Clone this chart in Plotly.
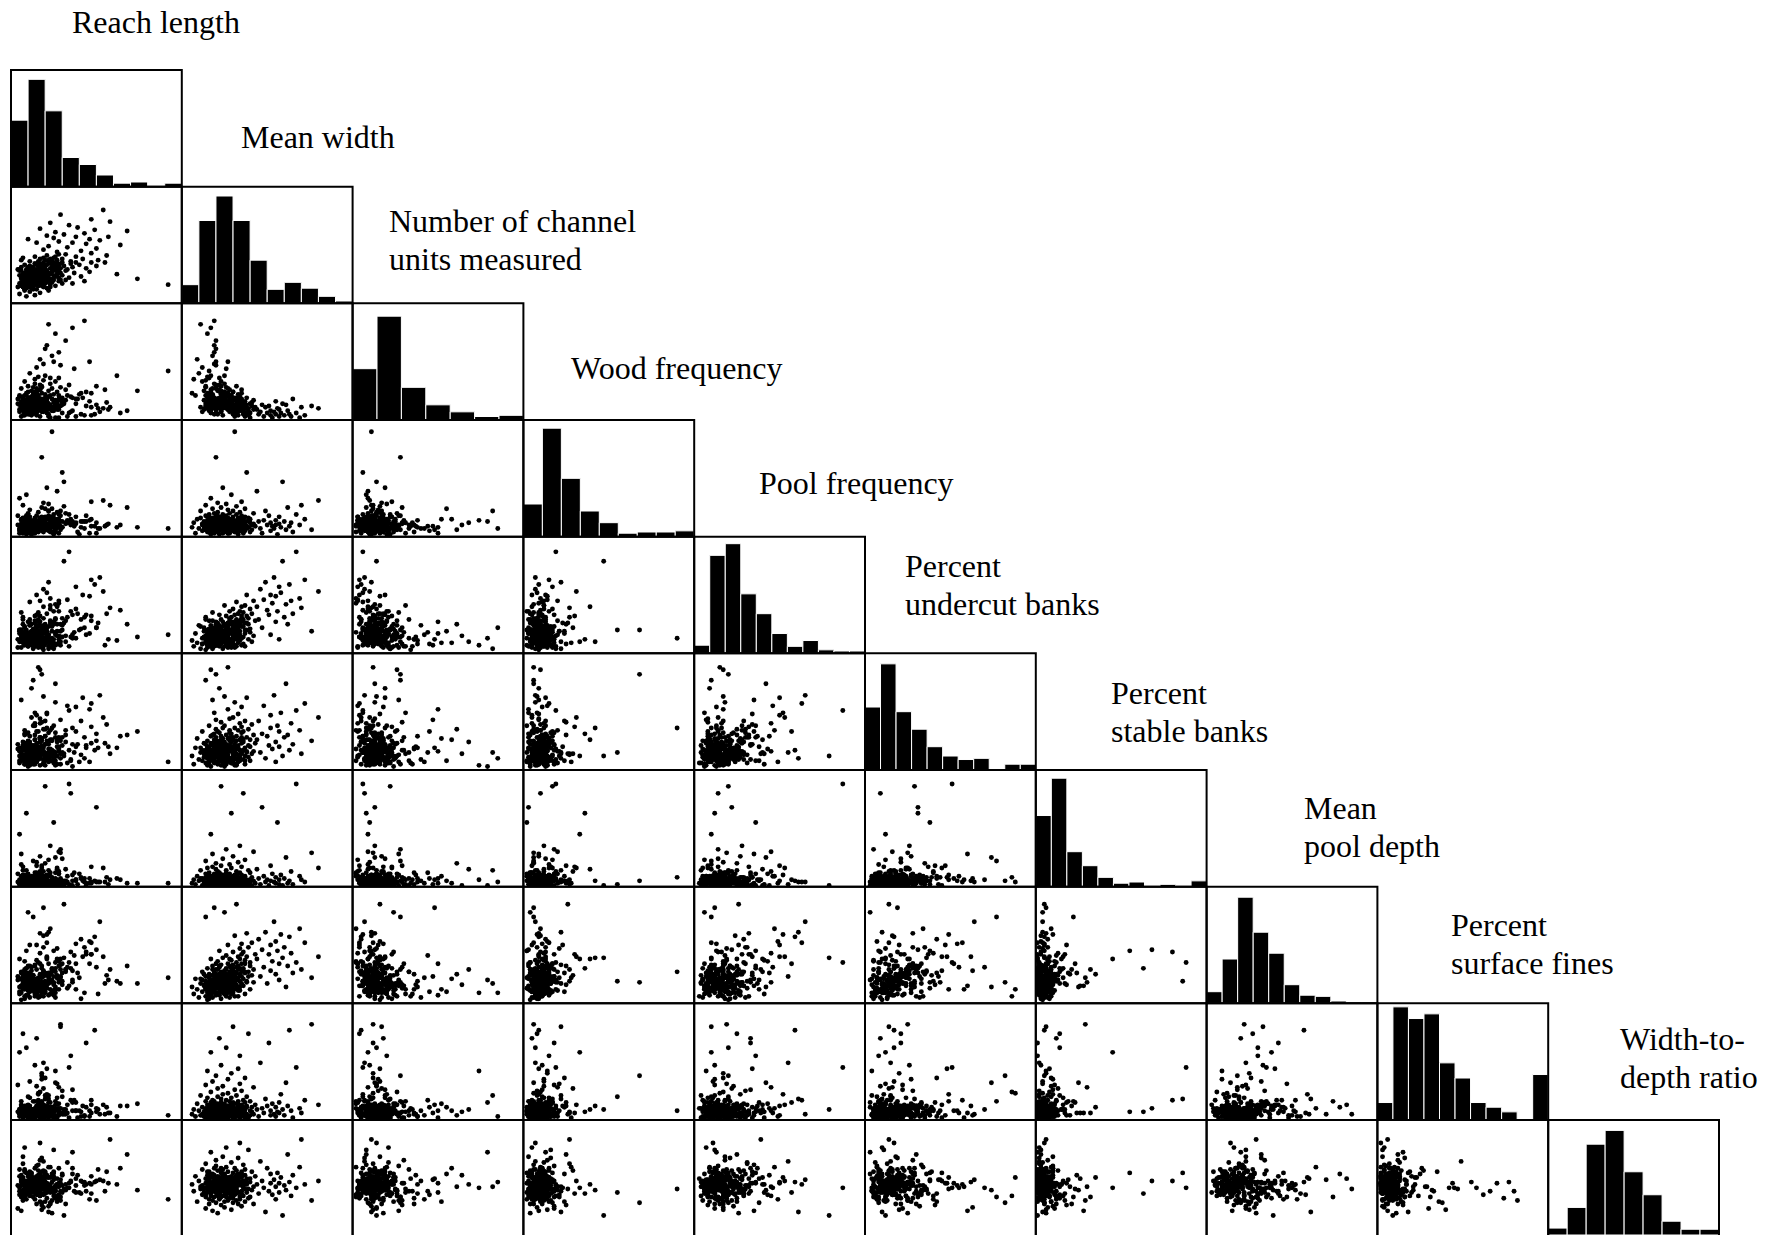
import plotly.graph_objects as go

# ---------------- labels ----------------
var_labels = [
    ["Reach length"],
    ["Mean width"],
    ["Number of channel", "units measured"],
    ["Wood frequency"],
    ["Pool frequency"],
    ["Percent", "undercut banks"],
    ["Percent", "stable banks"],
    ["Mean", "pool depth"],
    ["Percent", "surface fines"],
    ["Width-to-", "depth ratio"],
]


def parse(s):
    return [int(v) for v in s.split()]


# ---------------- per-site values (index units, 0-100 scale) ----------------
reach_length = parse("""
9 14 5 17 11 22 8 15 12 4 19 10 13 7 26 16 6 18 11 92 9 14 10 23 8 20 5 15 36 12 17 7 13 24 11 6 16 28 10 19 43 8 21 14 15 25 32 18 29 17 20
16 10 24 14 74 19 8 28 15 12 22 17 34 9 20 13 26 11 18 41 14 7 25 16 30 21 5 15 19 23 62 10 17 27 13 9 22 14 37 8 20 29 16 11 24 18 46 15 6 26 21 17 32 28
18 25 9 33 15 27 20 12 23 44 17 29 13 36 24 19 6 26 16 50 28 20 11 31 15 25 21 40 18 8 27 23 17 35 14 29 55 19 22 38 30 47
24 16 35 11 27 20 51 22 17 30 42 7 25 19 38 26 14 56 21 28 32 47
27 41 19 50 33 22 64 44 15 36 28 52 10 46 25 38 57 21 31 43 26 68 49 17 39 34 23 58 47 29 54
12 7 18 9 15 22 10 6 14 19 11 25 8 16 13 5 20 12 9 17
14 10 21 7 13 16 9 28 11 18 6 15 12 23 8 17 10 14 19 11
9 16 13 5 20 12 8 15 26 10 17 7 14 11 22 13 9 18 6 12
15 11 8 19 13 24 10 16 7 14 12 21 9 17 11 30 8 13 18 10
13 6 17 11 9 20 14 12 27 8 15 10 16 4 19 12 11 23 9 14
""")

mean_width = parse("""
6 7 8 9 10 11 12 12 13 14 14 14 14 14 15 15 15 15 15 16 16 16 16 16 16 17 17 17 17 17 17 18 18 18 18 18 18 19 19 19 19 19 19 19 20 20 20 20 20 20 20
21 21 21 21 21 21 21 22 22 22 22 22 22 22 23 23 23 23 23 23 23 24 24 24 24 24 24 24 25 25 25 25 25 25 25 26 26 26 26 26 26 26 27 27 27 27 27 27 28 28 28 28 28 28
29 29 29 29 29 29 30 30 30 30 30 30 31 31 31 31 31 31 32 32 32 32 32 32 33 33 33 33 33 33 34 34 34 34 34 34 35 35 35 35 35 35
36 36 36 36 37 37 37 37 38 38 38 39 39 39 40 40 40 41 41 42 42 43
44 45 46 47 48 49 50 51 52 52 53 54 55 55 56 57 57 58 59 60 61 62 63 64 65 67 69 70 72 76 80
22 17 28 14 25 19 31 23 16 27 20 35 18 24 12 29 21 26 15 33
19 25 13 22 30 18 27 21 16 24 37 20 26 14 23 29 17 22 32 19
26 15 21 28 18 24 11 23 30 20 17 25 34 22 19 27 16 21 24 28
20 29 24 16 22 36 19 26 14 23 27 18 21 31 25 17 23 20 28 15
24 21 18 27 13 23 26 20 32 17 25 22 19 29 16 24 21 38 18 23
""")

channel_units = parse("""
23 35 21 52 40 82 33 45 25 14 34 29 28 12 74 37 16 23 19 42 10 20 17 36 13 38 9 24 79 20 26 18 22 55 16 27 21 58 14 48 85 15 64 31 27 50 68 28 47 30 61
15 10 18 17 25 17 5 36 18 19 25 26 30 11 22 7 33 8 29 23 10 16 22 20 19 19 13 14 14 31 38 24 16 24 12 14 20 13 44 21 16 28 12 15 27 15 50 23 9 17 18 13 26 21
12 15 8 21 15 12 10 5 9 24 17 17 9 19 11 11 3 13 13 29 18 19 6 16 10 10 16 22 7 4 14 13 14 20 8 17 26 12 11 18 15 23
11 8 7 5 16 12 10 3 13 6 19 4 8 10 14 2 6 15 12 9 17 11
9 5 7 13 3 11 6 12 4 8 2 7 5 16 10 3 9 6 14 4 13 8 5 3 18 6 2 11 4 12 10
12 8 16 10 19 14 6 11 22 13 9 17 12 15 7 20 11 14 10 18
15 11 9 13 24 10 16 12 8 18 14 6 13 21 11 17 9 15 12 19
10 14 18 7 12 16 11 25 13 9 15 20 10 14 5 12 17 11 13 8
13 17 10 15 12 8 19 14 11 23 9 16 12 10 18 13 7 15 11 14
11 15 13 9 17 12 20 10 14 6 16 13 11 18 12 4 15 10 21 13
""")

wood_frequency = parse("""
8 12 3 15 7 22 10 5 13 18 9 11 6 27 14 9 4 17 12 7
11 6 19 4 9 14 33 8 13 2 10 16 7 24 12 9 5 15 20 6
7 13 10 3 18 8 12 68 9 14 6 21 11 4 16 8 29 13 10 5
9 15 6 12 2 17 10 7 14 25 8 11 3 19 9 13 42 6 12 8
12 8 4 16 10 13 7 28 11 9 5 14 18 6 23 10 12 3 9 15
6 11 9 20 3 14 8 36 12 7 15 10 5 17 13 9 22 4 11 90
10 14 7 4 12 19 8 11 26 6 13 9 2 16 10 21 12 7 15 5
13 9 5 18 11 8 30 14 6 10 3 12 24 7 17 9 55 13 8 16
8 12 4 15 10 6 20 11 9 39 13 7 3 14 22 10 18 5 12 9
7 10 14 2 17 11 8 47 13 6 25 9 12 4 19 10 27 15 6 31
9 6 12 8 14 5 10 7 11 16 8 13 4 9 11 7 15 10 6 12
7 11 9 14 6 10 13 8 17 9 5 12 10 7 15 11 8 13 9 6
12 8 10 5 13 9 16 7 11 8 14 10 6 12 9 3 11 13 8 10
10 13 7 11 9 15 8 12 6 10 14 9 18 7 11 8 13 10 5 9
8 11 14 9 6 12 10 7 13 9 11 16 8 10 4 12 9 7 14 11
""")

pool_frequency = parse("""
11 6 17 9 24 4 13 8 19 12 3 15 10 31 7 14 20 5 11 16 9 28 6 12 18 8 10 21 13 7 17 14 4 19 11 35 5 9 16 12 22 8 15 6 14 27 10 20 7 18 25
19 10 26 7 14 22 17 12 33 9 16 24 6 13 20 11 29 15 8 21 12 18 4 27 14 10 19 23 17 41 11 6 16 25 13 20 9 32 18 7 21 14 15 26 5 12 17 23 10 30 19 8 28 36
17 25 12 31 19 8 22 14 38 16 27 10 20 33 13 24 5 18 29 22 15 12 44 26 17 9 34 20 21 14 19 28 11 36 16 25 7 40 23 13 30 32
23 35 14 29 41 17 26 6 32 20 50 25 12 30 38 18 21 34 10 45 15 28
40 29 55 22 46 61 37 33 50 16 43 65 27 49 36 57 12 52 79 31 42 25 59 45 34 87 47 39 63 19 53
14 9 19 12 24 16 7 13 21 11 17 27 10 15 8 20 13 18 11 23
16 12 22 10 15 28 13 8 18 14 20 11 25 9 17 12 15 21 6 14
11 17 13 20 9 15 23 12 16 7 19 14 26 10 13 18 11 22 15 8
18 10 15 13 21 8 16 12 29 14 11 19 9 17 13 24 10 15 20 12
13 16 11 24 14 9 18 12 15 22 10 17 13 5 19 14 11 26 16 12
""")

percent_undercut_banks = parse("""
12 5 19 27 9 15 8 33 11 22 6 17 77 13 4 20 10 25 16 7 14 38 9 18 5 29 12 23 3 15 86 11 21 8 17 60 13 26 6 19 10 31 14 49 7 16 24 82 43 28 35
16 7 25 11 33 14 5 19 9 70 22 12 17 8 29 10 15 4 41 13 26 18 6 11 21 36 16 9 63 14 19 3 24 12 38 17 7 30 15 10 22 5 88 20 13 27 52 18 8 32 25 44 34 28
20 10 31 6 16 24 12 45 8 19 27 14 5 22 36 16 11 58 9 25 18 4 29 14 21 13 48 7 19 34 12 26 17 8 40 10 23 15 32 54 28 37
17 33 9 24 5 42 19 12 28 15 62 21 11 35 20 8 26 39 14 16 30 23
26 42 15 31 55 10 29 21 47 36 18 64 24 7 38 33 20 49 12 28 74 30 17 40 22 51 34 14 57 25 45
15 10 21 13 7 18 25 12 16 9 20 14 30 11 17 6 22 13 19 10
12 18 14 24 9 16 11 20 13 27 8 15 19 12 23 10 17 14 5 21
17 11 15 8 22 13 19 10 28 14 12 18 9 16 24 11 20 13 15 7
14 20 10 16 12 26 9 18 13 15 21 11 17 4 19 14 23 12 16 10
19 13 16 11 23 8 15 12 20 17 10 32 14 18 9 13 21 16 11 15
""")

percent_stable_banks = parse("""
3 6 2 9 5 14 1 7 4 11 3 8 22 2 6 10 4 16 5 3
5 2 7 12 3 4 45 6 1 9 8 17 2 5 4 28 7 3 11 6
4 8 1 6 10 3 15 5 2 7 20 4 9 6 1 3 13 8 2 12
6 3 11 2 5 86 4 7 1 18 8 3 10 6 2 24 5 4 9 7
2 7 4 9 1 5 14 3 6 12 2 8 32 4 5 1 10 7 3 19
5 1 8 3 11 6 2 63 4 7 16 9 1 5 3 26 6 2 10 8
3 9 6 2 4 13 7 1 5 21 3 8 11 2 6 4 35 5 1 12
7 4 1 10 5 2 17 6 3 80 8 1 9 4 23 6 2 5 14 3
2 6 12 4 8 1 30 5 3 15 7 2 68 9 4 6 1 18 5 11
4 8 3 55 6 2 10 1 7 25 3 5 13 2 88 9 6 4 29 16
3 5 2 7 4 1 6 3 8 2 5 4 9 3 6 2 5 1 7 4
4 2 6 3 5 8 1 4 7 3 2 5 6 4 10 3 2 7 5 1
5 3 1 6 4 2 7 5 3 9 4 6 2 5 3 8 1 4 6 3
2 6 4 3 7 5 1 8 4 2 6 3 5 9 2 4 7 3 1 5
6 4 3 5 2 7 4 1 6 3 8 5 2 4 7 3 6 2 5 10
""")

mean_pool_depth = parse("""
14 8 21 12 5 17 27 10 15 23 6 13 74 19 9 16 3 30 11 22 7 18 12 25 4 14 38 8 20 13 6 17 24 10 32 15 5 21 11 82 9 26 16 12 19 7 29 18 23 34 25
22 13 29 9 17 24 36 12 20 31 7 25 15 45 19 11 27 21 16 4 33 23 18 10 26 39 14 21 28 8 19 78 17 24 13 30 22 6 41 16 25 29 12 50 20 9 34 15 26 5 38 18 27 32
25 17 30 13 37 22 9 28 20 44 15 33 24 18 27 58 21 12 35 31 20 16 26 85 29 11 40 22 32 6 47 25 14 30 19 38 17 27 23 51 34 42
30 21 44 15 37 26 8 34 60 19 40 27 23 48 12 35 32 24 52 18 29 42
38 55 23 46 31 61 17 42 50 28 36 70 25 53 45 34 20 59 39 48 14 32 57 43 26 35 64 29 52 22 40
17 12 22 15 9 19 26 14 18 11 21 16 29 13 20 8 17 24 15 12
14 20 16 25 11 18 13 22 10 17 27 15 19 12 23 16 7 21 14 18
19 13 17 10 24 15 21 12 30 16 14 20 11 18 26 13 22 15 9 17
16 22 12 18 14 28 11 20 15 17 23 13 19 6 21 16 25 14 18 12
21 15 18 13 25 10 17 14 22 19 12 32 16 20 11 15 23 18 13 17
""")

percent_surface_fines = parse("""
5 9 3 14 8 21 4 11 6 30 10 2 16 7 42 5 13 9 19 4
8 4 12 6 10 3 58 7 15 5 24 9 2 11 33 6 17 8 3 13
3 10 7 16 5 2 9 38 6 12 4 8 20 11 3 14 27 7 5 70
9 6 13 2 11 18 4 8 5 15 7 47 3 10 22 6 12 9 29 4
7 3 11 5 14 9 62 2 8 17 4 10 6 23 12 3 35 8 5 16
4 12 8 6 10 40 3 7 13 5 19 9 2 15 11 6 80 4 26 8
6 9 2 14 7 4 21 10 5 12 3 44 8 16 6 31 11 2 55 9
10 5 13 3 8 25 6 11 4 17 7 2 36 9 15 5 20 12 74 3
2 8 16 4 11 7 28 5 13 9 3 49 10 6 18 12 66 4 8 14
5 11 3 7 15 6 22 9 4 32 12 77 8 2 45 10 6 17 82 13
6 4 9 3 7 11 5 8 2 10 6 4 12 7 5 9 3 8 6 13
5 8 3 10 6 4 12 7 9 2 6 11 5 8 4 14 7 3 9 6
7 3 9 5 11 6 4 8 13 5 7 2 10 6 8 4 9 5 12 7
4 10 6 8 3 7 12 5 9 6 2 11 7 4 8 5 10 3 6 9
8 5 11 4 7 9 3 6 10 5 8 13 4 7 2 9 6 11 5 7
""")

width_to_depth_ratio = parse("""
44 38 51 29 47 42 57 35 40 23 49 45 33 62 41 52 37 46 55 31
39 48 43 27 55 36 41 50 72 45 34 30 46 53 38 21 44 58 42 49
46 33 52 40 60 37 44 28 48 65 42 35 51 19 43 39 56 47 32 45
41 50 36 45 31 54 43 38 49 26 47 40 68 34 44 52 39 57 42 24
37 44 53 40 29 47 35 59 42 38 76 46 33 50 41 30 55 45 36 48
43 32 48 39 45 22 51 36 63 41 34 46 54 28 44 49 38 42 58 40
35 47 42 56 30 44 39 52 40 27 48 45 37 67 43 33 50 80 46 31
45 38 50 25 43 53 36 41 61 47 34 44 29 57 40 49 37 46 32 74
40 49 33 46 55 39 42 27 51 44 36 64 47 41 20 58 38 45 53 35
48 42 31 54 37 45 50 17 43 39 70 46 34 52 41 59 83 44 30 47
44 39 48 36 51 42 46 33 45 49 41 55 38 47 43 35 50 44 40 53
42 47 37 45 50 40 44 34 48 43 52 39 46 41 56 38 45 49 36 43
46 41 49 38 44 53 40 47 32 45 42 50 37 48 43 39 54 44 46 41
40 45 43 51 37 46 42 48 35 44 49 41 47 38 52 43 45 39 50 42
48 43 39 46 41 55 44 37 49 42 45 36 47 43 51 40 46 44 38 58
""")

# ---------------- histogram bar heights (relative frequency, %) ----------------
hist_reach_length = [57, 92, 65, 25, 19, 10, 3, 4, 0, 3]
hist_mean_width = [16, 71, 92, 71, 37, 12, 18, 13, 6, 2]
hist_channel_units = [44, 89, 28, 13, 7, 3, 4]
hist_wood_frequency = [28, 93, 50, 22, 12, 3, 4, 4, 5]
hist_pool_frequency = [7, 84, 94, 51, 34, 17, 6, 11, 3, 2, 2]
hist_undercut_banks = [54, 91, 50, 35, 20, 12, 9, 10, 0, 5, 5]
hist_stable_banks = [61, 93, 30, 18, 8, 3, 4, 0, 2, 0, 5]
hist_pool_depth = [10, 38, 91, 61, 43, 16, 7, 6, 2, 1, 1]
hist_surface_fines = [15, 97, 87, 91, 49, 36, 15, 11, 7, 0, 39]
hist_width_to_depth = [6, 24, 79, 91, 55, 35, 12, 5, 5]

variables = [reach_length, mean_width, channel_units, wood_frequency, pool_frequency,
             percent_undercut_banks, percent_stable_banks, mean_pool_depth,
             percent_surface_fines, width_to_depth_ratio]
histograms = [hist_reach_length, hist_mean_width, hist_channel_units, hist_wood_frequency,
              hist_pool_frequency, hist_undercut_banks, hist_stable_banks, hist_pool_depth,
              hist_surface_fines, hist_width_to_depth]

lengths = [len(v) for v in variables]
assert len(set(lengths)) == 1, lengths

# ---------------- layout geometry ----------------
W, H = 1775, 1235
GRID_LEFT, GRID_TOP = 11.0, 70.0
CELL_W, CELL_H = 170.8, 116.67
NV = len(variables)
FONT = "Liberation Serif, Times New Roman, serif"
FONT_SIZE = 32
LINE_GAP = 38
label_anchor = [(70, 22), (239, 137), (387, 221), (569, 368), (757, 483),
                (903, 566), (1109, 693), (1302, 808), (1449, 925), (1618, 1039)]

fig = go.Figure()
layout = dict(
    width=W, height=H, margin=dict(l=0, r=0, t=0, b=0),
    paper_bgcolor="white", plot_bgcolor="white", showlegend=False,
)
shapes = []
annotations = []

k = 0
for r in range(NV):
    for c in range(r + 1):
        k += 1
        sfx = "" if k == 1 else str(k)
        left = GRID_LEFT + c * CELL_W
        top = GRID_TOP + r * CELL_H
        bottom = top + CELL_H
        xdom = [left / W, (left + CELL_W) / W]
        ydom = [max(0.0, 1 - bottom / H), 1 - top / H]
        if r == c:
            counts = histograms[r]
            n = len(counts)
            fig.add_trace(go.Bar(
                x=[i + 0.5 for i in range(n)], y=counts, width=1.0,
                marker=dict(color="black", line=dict(color="white", width=1)),
                xaxis="x" + sfx, yaxis="y" + sfx, hoverinfo="skip",
            ))
            xr, yr = [0, n], [0, 100]
        else:
            fig.add_trace(go.Scatter(
                x=variables[c], y=variables[r], mode="markers",
                marker=dict(color="black", size=4.9, line=dict(width=0)),
                xaxis="x" + sfx, yaxis="y" + sfx, hoverinfo="skip",
            ))
            xr, yr = [0, 100], [0, 100]
        layout["xaxis" + sfx] = dict(domain=xdom, anchor="y" + sfx, range=xr,
                                      visible=False, fixedrange=True)
        layout["yaxis" + sfx] = dict(domain=ydom, anchor="x" + sfx, range=yr,
                                      visible=False, fixedrange=True)
        y0 = -0.05 if r == NV - 1 else 0
        shapes.append(dict(type="rect", xref="x" + sfx + " domain", yref="y" + sfx + " domain",
                           x0=0, x1=1, y0=y0, y1=1,
                           line=dict(color="black", width=2), fillcolor="rgba(0,0,0,0)",
                           layer="above"))

for lines, (lx, ly) in zip(var_labels, label_anchor):
    for j, txt in enumerate(lines):
        annotations.append(dict(
            text=txt, x=lx / W, y=1 - (ly + j * LINE_GAP) / H, xref="paper", yref="paper",
            xanchor="left", yanchor="middle", showarrow=False,
            font=dict(family=FONT, size=FONT_SIZE, color="black"),
        ))

layout["shapes"] = shapes
layout["annotations"] = annotations
fig.update_layout(**layout)
fig.write_html(
    "out.html",
    config={"displayModeBar": False, "staticPlot": True},
    post_script="document.body.style.margin='0';document.body.style.overflow='hidden';",
)
